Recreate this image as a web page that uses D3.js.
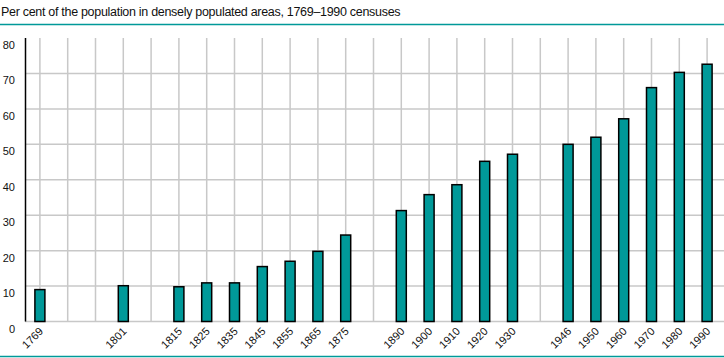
<!doctype html>
<html lang="en">
<head>
  <meta charset="utf-8">
  <title>Densely populated areas, 1769-1990</title>
  <script src="https://d3js.org/d3.v7.min.js"></script>
  <style>
    body { margin: 0; background: #fff; }
    text { font-family: "Liberation Sans", Arial, sans-serif; fill: #111; }
    .grid line { stroke: #c8c8c8; stroke-width: 1.5px; }
  </style>
</head>
<body>
<div id="chart"></div>
<script>
  // census years, with blank slots where the original leaves a gap
  var slots = ["1769", "", "", "1801", "", "1815", "1825", "1835", "1845", "1855", "1865", "1875",
               "", "1890", "1900", "1910", "1920", "1930", "", "1946", "1950", "1960", "1970", "1980", "1990"];
  var years = ["1769", "1801", "1815", "1825", "1835", "1845", "1855", "1865", "1875",
               "1890", "1900", "1910", "1920", "1930", "1946", "1950", "1960", "1970", "1980", "1990"];
  var share = [9.0, 10.1, 9.8, 10.9, 10.9, 15.5, 17.0, 19.8, 24.4,
               31.3, 35.8, 38.6, 45.2, 47.2, 50.0, 52.0, 57.2, 66.0, 70.3, 72.6];
  var yTicks = [0, 10, 20, 30, 40, 50, 60, 70, 80];

  var width = 724,
      height = 358;

  var svg = d3.select("#chart")
    .append("svg")
    .attr("width", width)
    .attr("height", height);

  var teal = "#009999";

  // title and rules
  svg.append("text")
    .attr("x", 1)
    .attr("y", 16)
    .style("font-size", "12.5px")
    .style("letter-spacing", "-0.3px")
    .text("Per cent of the population in densely populated areas, 1769\u20131990 censuses");

  svg.append("line")
    .attr("x1", 0).attr("x2", width)
    .attr("y1", 24.5).attr("y2", 24.5)
    .attr("stroke", teal).attr("stroke-width", 1.5);

  svg.append("line")
    .attr("x1", 0).attr("x2", width)
    .attr("y1", 356.5).attr("y2", 356.5)
    .attr("stroke", teal).attr("stroke-width", 1.5);

  var x = d3.scaleBand()
    .domain(d3.range(slots.length))
    .range([26, 721])
    .padding(0);

  var y = d3.scaleLinear()
    .domain([0, 80])
    .range([321.5, 38]);

  function cx(i) { return x(i) + x.bandwidth() / 2; }

  var grid = svg.append("g").attr("class", "grid");

  // vertical grid at each slot centre
  grid.selectAll(".vg")
    .data(d3.range(slots.length))
    .enter().append("line")
    .attr("x1", cx).attr("x2", cx)
    .attr("y1", y(80)).attr("y2", y(0));

  // horizontal grid
  grid.selectAll(".hg")
    .data(yTicks.filter(function(d) { return d < 80; }))
    .enter().append("line")
    .attr("x1", 25).attr("x2", width)
    .attr("y1", function(d) { return y(d); })
    .attr("y2", function(d) { return y(d); });

  // y axis line
  svg.append("line")
    .attr("x1", 25.5).attr("x2", 25.5)
    .attr("y1", y(80)).attr("y2", y(0))
    .attr("stroke", "#000").attr("stroke-width", 1.5);

  svg.selectAll(".ylab")
    .data(yTicks)
    .enter().append("text")
    .attr("x", 15)
    .attr("y", function(d) { return y(d) + 11; })
    .attr("text-anchor", "end")
    .style("font-size", "11px")
    .text(function(d) { return d; });

  var bw = 10;

  svg.selectAll(".bar")
    .data(years)
    .enter().append("rect")
    .attr("x", function(d) { return cx(slots.indexOf(d)) - bw / 2; })
    .attr("y", function(d, i) { return y(share[i]); })
    .attr("width", bw)
    .attr("height", function(d, i) { return y(0) - y(share[i]); })
    .attr("fill", teal)
    .attr("stroke", "#000")
    .attr("stroke-width", 1.5);

  svg.selectAll(".xlab")
    .data(years)
    .enter().append("text")
    .attr("transform", function(d) {
      return "translate(" + (cx(slots.indexOf(d)) + 4) + ",332) rotate(-45)";
    })
    .attr("text-anchor", "end")
    .style("font-size", "11px")
    .text(function(d) { return d; });
</script>
</body>
</html>
